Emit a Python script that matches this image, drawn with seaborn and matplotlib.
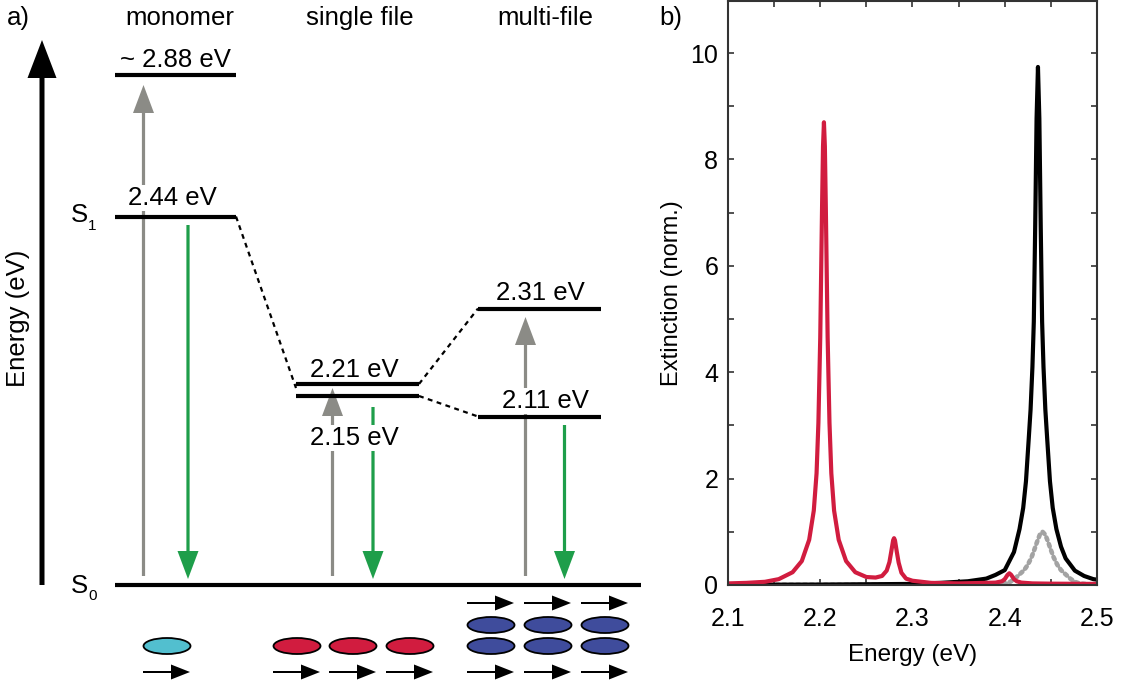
import matplotlib
matplotlib.use("Agg")
import matplotlib.pyplot as plt
from matplotlib.patches import FancyArrow, Ellipse
from matplotlib.ticker import MultipleLocator
import seaborn as sns

# ---------------- panel b data ----------------
red_energy = [2.100, 2.120, 2.140, 2.155, 2.170, 2.180, 2.188, 2.193, 2.196, 2.198,
              2.200, 2.202, 2.203, 2.204, 2.205, 2.206, 2.208, 2.210, 2.212, 2.215,
              2.220, 2.228, 2.238, 2.250, 2.260, 2.267, 2.272, 2.275, 2.277, 2.279,
              2.280, 2.281, 2.283, 2.285, 2.288, 2.293, 2.300, 2.320, 2.350, 2.380,
              2.390, 2.397, 2.400, 2.403, 2.405, 2.407, 2.410, 2.413, 2.418, 2.430,
              2.450, 2.500]
red_ext = [0.03, 0.04, 0.06, 0.11, 0.24, 0.45, 0.85, 1.40, 2.10, 3.05,
           4.66, 7.15, 8.25, 8.70, 8.25, 7.15, 4.66, 3.05, 2.10, 1.40,
           0.85, 0.45, 0.24, 0.15, 0.14, 0.17, 0.27, 0.43, 0.63, 0.84,
           0.88, 0.84, 0.62, 0.42, 0.23, 0.12, 0.08, 0.04, 0.03, 0.04,
           0.045, 0.07, 0.11, 0.19, 0.22, 0.19, 0.11, 0.07, 0.045, 0.03,
           0.025, 0.02]

black_energy = [2.100, 2.200, 2.300, 2.330, 2.360, 2.380, 2.390, 2.400, 2.410, 2.416,
                2.420, 2.423, 2.426, 2.428, 2.430, 2.4315, 2.433, 2.4345, 2.436, 2.4375,
                2.439, 2.4405, 2.442, 2.444, 2.446, 2.449, 2.452, 2.456, 2.461, 2.466,
                2.476, 2.486, 2.496, 2.500]
black_ext = [0.004, 0.008, 0.02, 0.04, 0.07, 0.12, 0.19, 0.28, 0.62, 1.05,
             1.45, 1.95, 2.75, 3.30, 4.10, 4.95, 6.74, 8.77, 9.74, 8.77,
             6.74, 4.95, 4.10, 3.30, 2.75, 1.95, 1.45, 1.05, 0.72, 0.50,
             0.27, 0.17, 0.11, 0.10]

gray_energy = [2.100, 2.300, 2.370, 2.390, 2.401, 2.406, 2.411, 2.416, 2.421, 2.425,
               2.429, 2.432, 2.435, 2.438, 2.441, 2.444, 2.447, 2.450, 2.453, 2.457,
               2.461, 2.466, 2.471, 2.476, 2.481, 2.490, 2.500]
gray_ext = [0.005, 0.005, 0.008, 0.015, 0.03, 0.06, 0.12, 0.20, 0.28, 0.38,
            0.52, 0.66, 0.81, 0.945, 1.00, 0.945, 0.81, 0.66, 0.52, 0.38,
            0.28, 0.20, 0.12, 0.06, 0.03, 0.015, 0.01]

x_ticks = [2.1, 2.2, 2.3, 2.4, 2.5]
y_ticks = [0, 2, 4, 6, 8, 10]

# ---------------- panel a data (schematic) ----------------
column_titles = ["monomer", "single file", "multi-file"]
level_labels = ["~ 2.88 eV", "2.44 eV", "2.21 eV", "2.15 eV", "2.31 eV", "2.11 eV"]
level_column = [0, 0, 1, 1, 2, 2]

# ---------------- layout (pixel coordinates of the schematic) ----------------
col_title_x = [180, 360, 545]
col_span = [(115, 236), (296, 419), (478, 601)]
level_y = [75, 216.5, 384, 396, 308.5, 416.5]
label_xy = [(175, 67), (172, 205), (354, 377), (354, 445), (540, 300), (545, 408)]
ground_y = 585
absorb = [(143.5, 85), (332.5, 388), (525.5, 317)]        # x, tip y
emit = [(188, 225), (373, 407), (564.5, 425)]              # x, start y
mono_mol = [(167, 646)]
sf_mol = [(297, 646), (353, 646), (410, 646)]
mf_mol = [(491, 625), (548, 625), (605, 625), (491, 646), (548, 646), (605, 646)]
dip_y_low = 672
dip_y_top = 603

GRAY = "#8b8b86"
GREEN = "#1e9e4a"
RED = "#d11c3f"
FS = 18.5

sns.set_style("ticks")
plt.rcParams["font.family"] = ["Liberation Sans", "DejaVu Sans"]
plt.rcParams["text.color"] = "black"
plt.rcParams["axes.labelcolor"] = "black"
plt.rcParams["xtick.color"] = "black"
plt.rcParams["ytick.color"] = "black"

fig = plt.figure(figsize=(11.28, 6.85), dpi=100)
ax_a = fig.add_axes([0, 0, 1, 1])
ax_a.set_xlim(0, 1128)
ax_a.set_ylim(685, 0)
ax_a.axis("off")


def varrow(x, y0, y1, color, w, hw, hl, z=2):
    ax_a.add_patch(FancyArrow(x, y0, 0, y1 - y0, width=w, head_width=hw, head_length=hl,
                              length_includes_head=True, color=color, lw=0, zorder=z))


def harrow(x0, x1, y, z=2):
    ax_a.add_patch(FancyArrow(x0, y, x1 - x0, 0, width=2, head_width=15, head_length=19,
                              length_includes_head=True, color="black", lw=0, zorder=z))


# energy axis arrow
varrow(42, 585, 40, "black", 5, 29, 38)
ax_a.text(18, 318, "Energy (eV)", rotation=90, ha="center", va="center", fontsize=FS)
ax_a.text(71, 222, "S", fontsize=FS, ha="left", va="baseline")
ax_a.text(88, 230, "1", fontsize=11, ha="left", va="baseline")
ax_a.text(71, 593, "S", fontsize=FS, ha="left", va="baseline")
ax_a.text(88, 600, "0", fontsize=11, ha="left", va="baseline")
ax_a.text(7, 25, "a)", fontsize=FS, ha="left", va="baseline")
ax_a.text(659, 25, "b)", fontsize=FS, ha="left", va="baseline")

for t, x in zip(column_titles, col_title_x):
    ax_a.text(x, 25, t, fontsize=FS, ha="center", va="baseline")

# ground state
ax_a.hlines(ground_y, 115, 641, color="black", lw=3, zorder=4)

# levels
for lab, col, y, (lx, ly) in zip(level_labels, level_column, level_y, label_xy):
    x0, x1 = col_span[col]
    ax_a.hlines(y, x0, x1, color="black", lw=3, zorder=4, capstyle="butt")
    ax_a.text(lx, ly, lab, fontsize=FS, ha="center", va="baseline", zorder=3,
              bbox=dict(facecolor="white", edgecolor="none", pad=1.0))

# connectors
ax_a.plot([236, 296], [216.5, 388], ls=(0, (2.2, 2)), lw=1.6, color="black")
ax_a.plot([419, 478], [384, 308.5], ls=(0, (2.2, 2)), lw=1.6, color="black")
ax_a.plot([419, 478], [396, 416.5], ls=(0, (2.2, 2)), lw=1.6, color="black")

# transitions
for x, tip in absorb:
    varrow(x, 576, tip, GRAY, 3.2, 21, 28)
for x, start in emit:
    varrow(x, start, 579, GREEN, 3.2, 21, 28)

# molecules
for (x, y) in mono_mol:
    ax_a.add_patch(Ellipse((x, y), 47, 16, facecolor="#52bfcf", edgecolor="black", lw=1.3, zorder=3))
    harrow(x - 24, x + 23, dip_y_low)
for (x, y) in sf_mol:
    ax_a.add_patch(Ellipse((x, y), 47, 16, facecolor=RED, edgecolor="black", lw=1.3, zorder=3))
    harrow(x - 24, x + 23, dip_y_low)
for (x, y) in mf_mol:
    ax_a.add_patch(Ellipse((x, y), 47, 16, facecolor="#3f4c9c", edgecolor="black", lw=1.3, zorder=3))
for (x, y) in mf_mol[:3]:
    harrow(x - 24, x + 23, dip_y_low)
    harrow(x - 24, x + 23, dip_y_top)

# ---------------- panel b ----------------
ax_b = fig.add_axes([728 / 1128, 100 / 685, 369 / 1128, 584 / 685])
sns.lineplot(x=gray_energy, y=gray_ext, ax=ax_b, color="#a3a3a3", lw=3.3,
             linestyle=(0, (0.6, 0.9)), estimator=None, sort=False, dash_capstyle="round")
sns.lineplot(x=black_energy, y=black_ext, ax=ax_b, color="black", lw=3,
             estimator=None, sort=False)
sns.lineplot(x=red_energy, y=red_ext, ax=ax_b, color=RED, lw=3,
             estimator=None, sort=False)

ax_b.set_xlim(2.1, 2.5)
ax_b.set_ylim(0, 10.98)
ax_b.set_xticks(x_ticks)
ax_b.set_xticklabels([f"{v:.1f}" for v in x_ticks])
ax_b.set_yticks(y_ticks)
ax_b.xaxis.set_minor_locator(MultipleLocator(0.05))
ax_b.yaxis.set_minor_locator(MultipleLocator(1))
ax_b.tick_params(which="both", direction="in", top=True, right=True, length=4.5,
                 width=1.1, color="#222222", labelsize=18)
ax_b.tick_params(axis="x", which="major", pad=16)
ax_b.tick_params(axis="y", which="major", pad=7)
for s in ax_b.spines.values():
    s.set_linewidth(1.5)
    s.set_color("#333333")
    s.set_visible(True)
ax_b.set_xlabel("Energy (eV)", fontsize=17.5, labelpad=9)
ax_b.set_ylabel("Extinction (norm.)", fontsize=17, labelpad=5)

fig.savefig("out.png", dpi=100)
